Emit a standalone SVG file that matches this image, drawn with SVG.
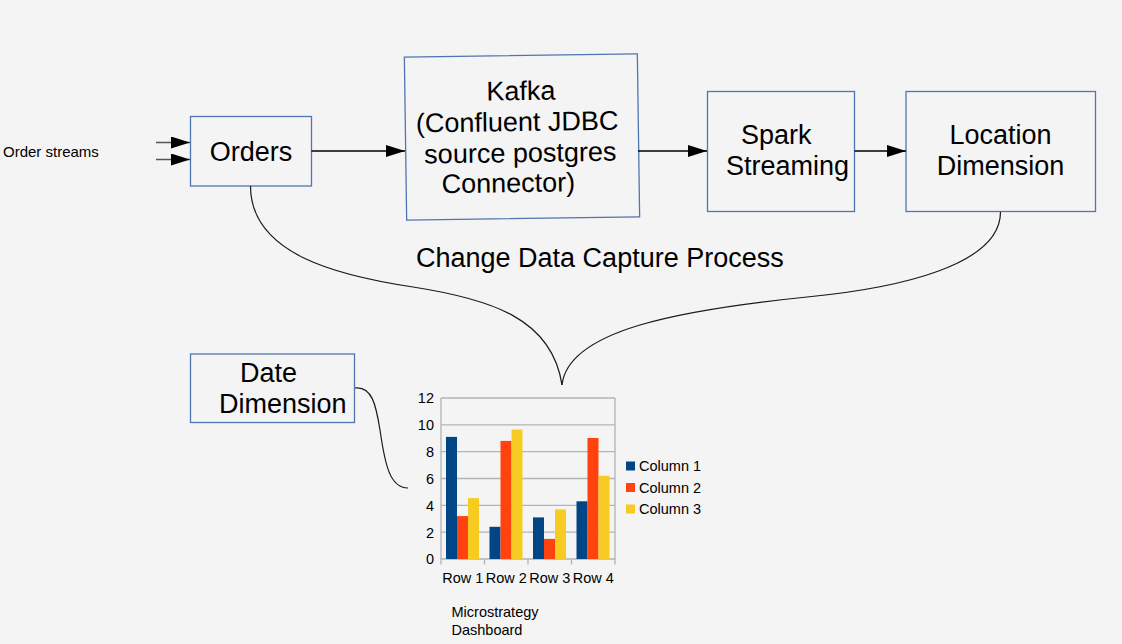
<svg xmlns="http://www.w3.org/2000/svg" width="1122" height="644" viewBox="0 0 1122 644">
<defs>
<style>
.bg{fill:#f4f4f4}
.box{fill:none;stroke:#4f76b0;stroke-width:1.3}
.big{font-family:"Liberation Sans",Arial,sans-serif;font-size:27px;fill:#000}
.sm{font-family:"Liberation Sans",Arial,sans-serif;font-size:14.5px;fill:#000}
.conn{fill:none;stroke:#000;stroke-width:1.3}
.curve{fill:none;stroke:#1a1a1a;stroke-width:1.2}
.grid{stroke:#b3b3b3;stroke-width:1.3;fill:none}
.c1{fill:#004586}
.c2{fill:#ff420e}
.c3{fill:#f8cb22}
</style>
<marker id="arr" markerUnits="userSpaceOnUse" markerWidth="20" markerHeight="12" refX="19" refY="6" orient="auto">
<path d="M0,0 L19,6 L0,12 z" fill="#000"/>
</marker>
</defs>
<rect class="bg" x="0" y="0" width="1122" height="644"/>

<g id="order-streams-label">
<text class="sm" x="3" y="157" style="font-size:15px">Order streams</text>
</g>

<g id="orders">
<rect class="box" x="190.5" y="116.5" width="121" height="69.5"/>
<text class="big" x="251" y="161" text-anchor="middle">Orders</text>
</g>

<g id="kafka" transform="rotate(-0.81 522 137)">
<rect class="box" x="405.5" y="55.5" width="233" height="163"/>
<text class="big" x="487" y="100">Kafka</text>
<text class="big" x="416" y="131">(Confluent JDBC</text>
<text class="big" x="424" y="162">source postgres</text>
<text class="big" x="441" y="192">Connector)</text>
</g>

<g id="spark">
<rect class="box" x="707.5" y="91.5" width="147" height="120"/>
<text class="big" x="741" y="144">Spark</text>
<text class="big" x="726" y="175">Streaming</text>
</g>

<g id="location">
<rect class="box" x="906" y="91.5" width="189.5" height="120"/>
<text class="big" x="1000.5" y="144" text-anchor="middle">Location</text>
<text class="big" x="1000.5" y="175" text-anchor="middle">Dimension</text>
</g>

<g id="cdc-label">
<text class="big" x="416" y="267">Change Data Capture Process</text>
</g>

<g id="date">
<rect class="box" x="190.5" y="354" width="164" height="68.5"/>
<text class="big" x="240" y="382">Date</text>
<text class="big" x="219" y="413">Dimension</text>
</g>

<g id="connectors">
<line x1="156" y1="142.5" x2="190" y2="142.5" stroke="#555" stroke-width="1.3" marker-end="url(#arr)"/>
<line x1="156" y1="159.5" x2="190" y2="159.5" stroke="#555" stroke-width="1.3" marker-end="url(#arr)"/>
<line class="conn" x1="311.5" y1="151" x2="405" y2="151" marker-end="url(#arr)"/>
<line class="conn" x1="638" y1="151" x2="707" y2="151" marker-end="url(#arr)"/>
<line class="conn" x1="854.5" y1="151" x2="906" y2="151" marker-end="url(#arr)"/>
<path class="curve" d="M250.5,186 C250.5,255 340,276 413,287 C490,299 552,318 562,385"/>
<path class="curve" d="M1000.5,212 C1000.5,265 900,288 807,297 C680,310 568,330 562,385"/>
<path class="curve" d="M355,388 C372,386 376,405 380,430 C385,465 390,488 408,488"/>
</g>

<g id="chart">
<g class="grid">
<line x1="441" y1="398" x2="615" y2="398"/>
<line x1="441" y1="424.8" x2="615" y2="424.8"/>
<line x1="441" y1="451.7" x2="615" y2="451.7"/>
<line x1="441" y1="478.5" x2="615" y2="478.5"/>
<line x1="441" y1="505.3" x2="615" y2="505.3"/>
<line x1="441" y1="532.2" x2="615" y2="532.2"/>
<line x1="441" y1="398" x2="441" y2="559"/>
<line x1="615" y1="398" x2="615" y2="559"/>
<line x1="441" y1="559" x2="615" y2="559"/>
<line x1="441" y1="559" x2="441" y2="564.5"/>
<line x1="484.5" y1="559" x2="484.5" y2="564.5"/>
<line x1="528" y1="559" x2="528" y2="564.5"/>
<line x1="571.5" y1="559" x2="571.5" y2="564.5"/>
<line x1="615" y1="559" x2="615" y2="564.5"/>
</g>
<g class="sm" text-anchor="end">
<text x="434" y="403">12</text>
<text x="434" y="430">10</text>
<text x="434" y="457">8</text>
<text x="434" y="484">6</text>
<text x="434" y="510.5">4</text>
<text x="434" y="537.5">2</text>
<text x="434" y="564">0</text>
</g>
<g>
<rect class="c1" x="446" y="436.9" width="11" height="122.1"/>
<rect class="c2" x="457" y="516.1" width="11" height="42.9"/>
<rect class="c3" x="468" y="498.1" width="11" height="60.9"/>
<rect class="c1" x="489.5" y="526.8" width="11" height="32.2"/>
<rect class="c2" x="500.5" y="440.9" width="11" height="118.1"/>
<rect class="c3" x="511.5" y="429.5" width="11" height="129.5"/>
<rect class="c1" x="533" y="517.4" width="11" height="41.6"/>
<rect class="c2" x="544" y="538.9" width="11" height="20.1"/>
<rect class="c3" x="555" y="509.4" width="11" height="49.6"/>
<rect class="c1" x="576.5" y="501.3" width="11" height="57.7"/>
<rect class="c2" x="587.5" y="438" width="11" height="121"/>
<rect class="c3" x="598.5" y="475.8" width="11" height="83.2"/>
</g>
<g class="sm" text-anchor="middle">
<text x="462.75" y="583">Row 1</text>
<text x="506.25" y="583">Row 2</text>
<text x="549.75" y="583">Row 3</text>
<text x="593.25" y="583">Row 4</text>
</g>
<rect class="c1" x="626" y="461.5" width="9" height="9"/>
<rect class="c2" x="626" y="483" width="9" height="9"/>
<rect class="c3" x="626" y="504.5" width="9" height="9"/>
<text class="sm" x="639" y="471">Column 1</text>
<text class="sm" x="639" y="492.5">Column 2</text>
<text class="sm" x="639" y="514">Column 3</text>
<text class="sm" x="451.5" y="617">Microstrategy</text>
<text class="sm" x="451.5" y="635">Dashboard</text>
</g>
</svg>
